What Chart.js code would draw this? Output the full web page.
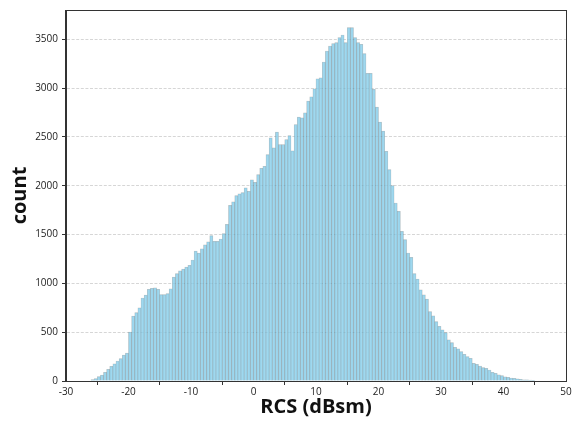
<!DOCTYPE html>
<html>
<head>
<meta charset="utf-8">
<script src="https://cdn.jsdelivr.net/npm/chart.js@4.4.0/dist/chart.umd.min.js"></script>
<style>
  html, body { margin: 0; padding: 0; background: #fff; }
  canvas { display: block; }
</style>
</head>
<body>
<canvas id="hist" width="573" height="423"></canvas>
<script>
// histogram bins: 0.5 dB wide, first bin starts at -26 dBsm
const binStart = -26;
const binWidth = 0.5;
const counts = [
  15, 25, 45, 60, 90, 120, 150, 175, 205, 230, 265, 285,          // -26 .. -20.5
  500, 665, 700, 750, 850, 880, 940, 950, 955, 940,                // -20 .. -15.5
  885, 885, 895, 945, 1065, 1100, 1128, 1147, 1167, 1184,          // -15 .. -10.5
  1240, 1330, 1310, 1355, 1395, 1425, 1490, 1430, 1430, 1455,      // -10 .. -5.5
  1510, 1605, 1800, 1835, 1900, 1917, 1930, 1978, 1944, 2060,      // -5 .. -0.5
  2035, 2115, 2180, 2200, 2320, 2491, 2389, 2549, 2423, 2423,      // 0 .. 4.5
  2474, 2515, 2358, 2628, 2703, 2696, 2748, 2868, 2912, 2994,      // 5 .. 9.5
  3097, 3107, 3268, 3381, 3432, 3457, 3467, 3518, 3545, 3467,      // 10 .. 14.5
  3620, 3620, 3518, 3467, 3450, 3354, 3152, 3152, 2988, 2806,      // 15 .. 19.5
  2652, 2560, 2354, 2166, 2002, 1824, 1738, 1533, 1448, 1311,      // 20 .. 24.5
  1266, 1100, 1044, 934, 883, 839, 712, 667, 609, 560,             // 25 .. 29.5
  524, 496, 421, 393, 346, 329, 301, 274, 250, 233,                // 30 .. 34.5
  182, 171, 154, 137, 130, 113, 89, 79, 62, 55,                    // 35 .. 39.5
  44, 38, 31, 28, 21, 17, 13, 12, 10, 8                            // 40 .. 44.5
];
const xTicks = [-30, -20, -10, 0, 10, 20, 30, 40, 50];
const yTicks = [0, 500, 1000, 1500, 2000, 2500, 3000, 3500];

const points = counts.map((c, i) => ({ x: binStart + binWidth * (i + 0.5), y: c }));

const AXIS_COLOR = '#333';
const TICK_FONT = { family: 'Open Sans', size: 10 };
const TITLE_FONT = { family: 'Open Sans', size: 20, weight: 'bold' };

// top and right side of the frame, left/bottom redrawn solid
const framePlugin = {
  id: 'frame',
  afterDraw(chart) {
    const { ctx, chartArea: a } = chart;
    ctx.save();
    ctx.setLineDash([]);
    ctx.strokeStyle = AXIS_COLOR;
    ctx.lineWidth = 1;
    ctx.strokeRect(a.left - 0.5, a.top + 0.5, a.right - a.left + 1, a.bottom - a.top);
    ctx.restore();
  },
};

new Chart(document.getElementById('hist'), {
  type: 'bar',
  data: {
    datasets: [{
      data: points,
      backgroundColor: 'rgba(135, 206, 235, 0.8)',
      borderColor: 'rgba(30, 30, 30, 0.28)',
      borderWidth: 0.5,
      barPercentage: 1,
      categoryPercentage: 1,
    }],
  },
  options: {
    responsive: false,
    animation: false,
    devicePixelRatio: 1,
    layout: { padding: { top: 10, right: 7, left: 0, bottom: 0 } },
    plugins: { legend: { display: false }, tooltip: { enabled: false } },
    scales: {
      x: {
        type: 'linear',
        offset: false,
        min: -30,
        max: 50,
        afterFit(scale) { scale.height = 42; },
        afterBuildTicks(scale) { scale.ticks = xTicks.map((v) => ({ value: v })); },
        ticks: { color: '#222', font: TICK_FONT, padding: 1, maxRotation: 0, callback: (v) => String(v) },
        grid: { drawOnChartArea: false, drawTicks: true, tickLength: 4, tickColor: AXIS_COLOR, tickBorderDash: [] },
        border: { display: true, color: AXIS_COLOR, width: 1 },
        title: { display: true, text: 'RCS (dBsm)', color: '#111', font: TITLE_FONT, padding: { top: 0, bottom: 4 } },
      },
      y: {
        min: 0,
        max: 3801,
        afterFit(scale) { scale.width = 66; },
        afterBuildTicks(scale) { scale.ticks = yTicks.map((v) => ({ value: v })); },
        ticks: { color: '#222', font: TICK_FONT, padding: 4, includeBounds: false, callback: (v) => String(v) },
        grid: {
          color: 'rgba(0, 0, 0, 0.16)',
          lineWidth: 1,
          drawTicks: true,
          tickLength: 4,
          tickColor: AXIS_COLOR,
          tickBorderDash: [],
        },
        border: { display: true, color: AXIS_COLOR, width: 1, dash: [3, 1.6] },
        title: { display: true, text: 'count', color: '#111', font: TITLE_FONT, padding: { top: 8, bottom: 0 } },
      },
    },
  },
  plugins: [framePlugin],
});
</script>
</body>
</html>
